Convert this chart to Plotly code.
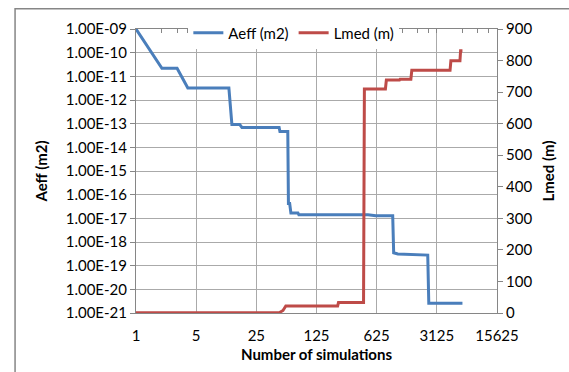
import plotly.graph_objects as go

# ---- data ----
aeff_x = [1, 2, 3, 4, 12, 13, 16, 17, 46, 47, 58, 59, 61, 63, 76, 78, 495, 612, 960, 985, 1100, 2450, 2520, 6200]
aeff_y = [1e-9, 2.2e-11, 2.2e-11, 3.2e-12, 3.2e-12, 9.3e-14, 9.3e-14, 6.9e-14, 6.9e-14, 4.7e-14, 4.7e-14,
          4.2e-17, 4.2e-17, 1.7e-17, 1.7e-17, 1.4e-17, 1.4e-17, 1.3e-17, 1.3e-17, 3.5e-19, 3.1e-19,
          2.8e-19, 2.6e-21, 2.6e-21]

lmed_x = [1, 46, 51, 55, 220, 225, 440, 450, 790, 810, 1150, 1170, 1560, 1600, 4450, 4550, 5800, 5900, 6200]
lmed_y = [1, 1, 8, 22, 22, 33, 33, 710, 710, 738, 738, 741, 741, 769, 769, 799, 799, 831, 831]

x_ticks = [1, 5, 25, 125, 625, 3125, 15625]
x_minor = [m * t for t in x_ticks[:-1] for m in (2, 3, 4)]
y_ticks = [10.0 ** e for e in range(-21, -8)]
y_ticktext = ["1.00E-%02d" % -e for e in range(-21, -8)]

BLUE = "#4A7EBB"
RED = "#BE4B48"
AX = "#868686"
GRID = "#aaaaaa"
FONT = "Lato"
FS = 15

fig = go.Figure()
fig.add_trace(go.Scatter(x=aeff_x, y=aeff_y, name="Aeff (m2)", mode="lines",
                         line=dict(color=BLUE, width=3), xaxis="x", yaxis="y"))
fig.add_trace(go.Scatter(x=lmed_x, y=lmed_y, name="Lmed (m)", mode="lines",
                         line=dict(color=RED, width=3), xaxis="x", yaxis="y2"))
# invisible trace to host the top axis with minor ticks
fig.add_trace(go.Scatter(x=[1, 15625], y=[1e-21, 1e-21], mode="lines", line=dict(width=0),
                         showlegend=False, hoverinfo="skip", xaxis="x2", yaxis="y"))

xr = [0, 4.19382]
fig.update_layout(
    width=569, height=372,
    margin=dict(l=136, r=72, t=29, b=59, autoexpand=False),
    paper_bgcolor="white", plot_bgcolor="white",
    font=dict(family=FONT, size=FS, color="#000000"),
    showlegend=True,
    legend=dict(orientation="h", x=0.145, y=0.986, xanchor="left", yanchor="middle",
                bgcolor="white", font=dict(size=FS), itemwidth=30,
                tracegroupgap=0),
    xaxis=dict(type="log", range=xr, tickvals=x_ticks, ticktext=[str(v) for v in x_ticks],
               showgrid=True, gridcolor=GRID, gridwidth=1,
               showline=True, linecolor=AX, linewidth=1, ticks="", ticklabelstandoff=9,
               title=dict(text="<b>Number of simulations</b>", standoff=6, font=dict(size=FS)),
               zeroline=False),
    xaxis2=dict(type="log", range=xr, overlaying="x", side="top", anchor="y",
                tickvals=x_ticks, showticklabels=False, showgrid=False,
                ticks="inside", ticklen=4, tickcolor=AX,
                minor=dict(tickvals=x_minor, ticks="inside", ticklen=4, tickcolor=AX),
                showline=True, linecolor=AX, linewidth=1),
    yaxis=dict(type="log", range=[-21, -9], tickvals=y_ticks, ticktext=y_ticktext,
               showgrid=True, gridcolor=GRID, gridwidth=1,
               showline=True, linecolor=AX, linewidth=1, ticks="outside", ticklen=5, tickcolor=AX,
               title=dict(text="<b>Aeff (m2)</b>", standoff=14, font=dict(size=FS)),
               zeroline=False),
    yaxis2=dict(range=[0, 900], dtick=100, overlaying="y", side="right", anchor="x",
                showgrid=False, showline=True, linecolor=AX, linewidth=1,
                ticks="outside", ticklen=5, tickcolor=AX,
                title=dict(text="<b>Lmed (m)</b>", standoff=12, font=dict(size=FS)),
                zeroline=False),
    shapes=[dict(type="rect", xref="paper", yref="paper", x0=-0.335, x1=1.5, y0=-1.0, y1=1.071,
                 line=dict(color=AX, width=1.5), fillcolor="rgba(0,0,0,0)", layer="below")],
)

fig.write_html("out.html")
